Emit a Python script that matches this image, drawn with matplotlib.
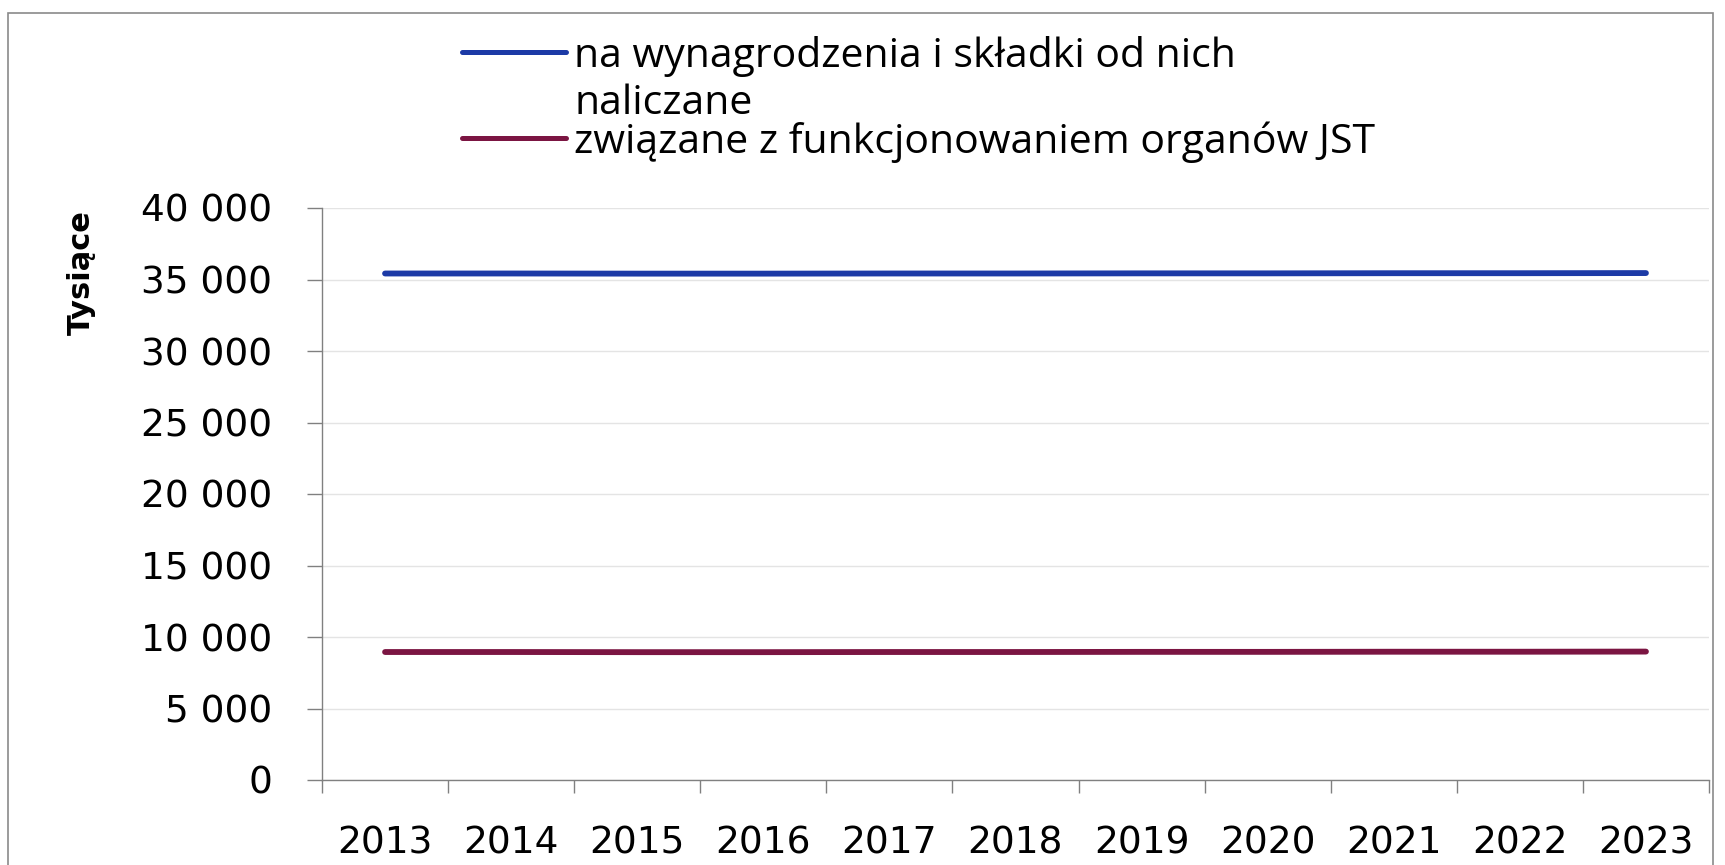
import matplotlib
matplotlib.use("Agg")
import matplotlib.pyplot as plt
from matplotlib.lines import Line2D
from matplotlib.patches import Rectangle
from matplotlib.ticker import FuncFormatter
import numpy as np

years = ["2013", "2014", "2015", "2016", "2017", "2018", "2019", "2020", "2021", "2022", "2023"]
wynagrodzenia = [35420, 35420, 35410, 35410, 35420, 35420, 35430, 35430, 35440, 35440, 35450]
organy = [8950, 8950, 8940, 8940, 8950, 8950, 8960, 8960, 8970, 8970, 8980]
series_labels = ["na wynagrodzenia i składki od nich", "naliczane",
                 "związane z funkcjonowaniem organów JST"]
yticks = [0, 5000, 10000, 15000, 20000, 25000, 30000, 35000, 40000]

W, H = 1725, 865
plt.rcParams['font.family'] = ['DejaVu Sans']
fig = plt.figure(figsize=(W / 100, H / 100), dpi=100)

ax = fig.add_axes([322 / W, 1 - 780 / H, (1709 - 322) / W, (780 - 208) / H])

blue = "#1c3aa6"
maroon = "#7b1542"
x = np.arange(len(years))
ax.plot(x, wynagrodzenia, color=blue, lw=4.2, solid_capstyle='round')
ax.plot(x, organy, color=maroon, lw=4.2, solid_capstyle='round')

ax.set_xlim(-0.5, len(years) - 0.5)
ax.set_ylim(0, 40000)
ax.set_yticks(yticks)
ax.yaxis.set_major_formatter(FuncFormatter(lambda v, p: f"{int(v):,}".replace(",", " ")))
ax.set_xticks(x)
ax.set_xticklabels(years)
ax.set_xticks(np.arange(-0.5, len(years)), minor=True)

ax.grid(axis='y', color='#e4e4e4', lw=1)
ax.set_axisbelow(True)
for s in ['top', 'right']:
    ax.spines[s].set_visible(False)
for s in ['left', 'bottom']:
    ax.spines[s].set_color('#808080')
    ax.spines[s].set_linewidth(1)

ax.tick_params(axis='y', length=11, width=1, color='#808080', pad=25, labelsize=27, labelcolor='black')
ax.tick_params(axis='x', which='major', length=0, pad=33, labelsize=27, labelcolor='black')
ax.tick_params(axis='x', which='minor', length=9, width=1, color='#808080')

# Y label
fig.text(81 / W, 1 - 273 / H, "Tysiące", rotation=90, fontsize=22, fontweight='bold',
         ha='center', va='center')

# Legend (manual)
fig.add_artist(Line2D([462 / W, 566 / W], [1 - 52 / H, 1 - 52 / H], color=blue, lw=3.6,
                      solid_capstyle='round'))
fig.add_artist(Line2D([462 / W, 566 / W], [1 - 138 / H, 1 - 138 / H], color=maroon, lw=3.6,
                      solid_capstyle='round'))
lf = dict(fontsize=29.5, family='Open Sans', ha='left', va='baseline')
fig.text(574 / W, 1 - 67 / H, series_labels[0], **lf)
fig.text(574 / W, 1 - 114 / H, series_labels[1], **lf)
fig.text(574 / W, 1 - 153 / H, series_labels[2], **lf)

# Outer border
fig.add_artist(Rectangle((8 / W, -0.01), (1713 - 8) / W, 1 - 13 / H + 0.01,
                         transform=fig.transFigure, fill=False, edgecolor='#8a8a8a', lw=1.2))

fig.savefig("out.png", dpi=100, facecolor='white')
